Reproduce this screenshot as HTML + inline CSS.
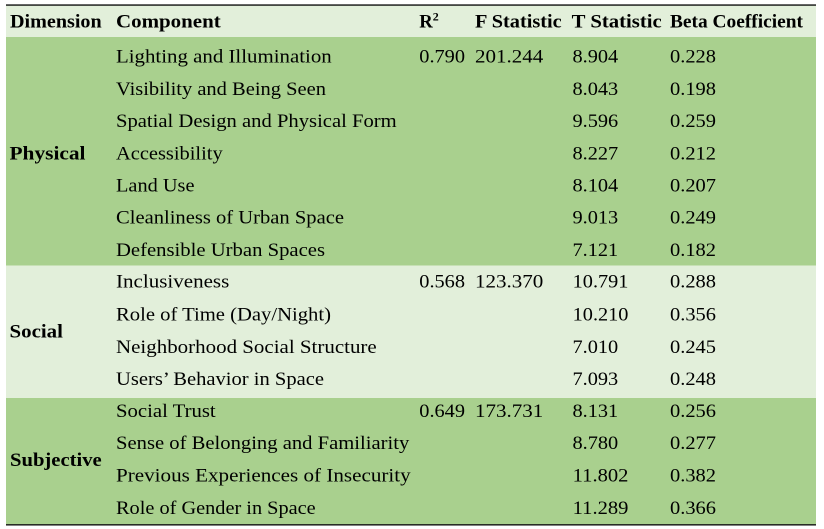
<!DOCTYPE html>
<html>
<head>
<meta charset="utf-8">
<style>
  html,body{margin:0;padding:0;background:#fff;}
  svg{display:block;}
  text{font-family:"Liberation Serif","DejaVu Serif",serif;font-size:18.67px;fill:#000;}
  .b{font-weight:bold;}
</style>
</head>
<body>
<svg width="824" height="529" viewBox="0 0 824 529" xmlns="http://www.w3.org/2000/svg">
  <rect x="0" y="0" width="824" height="529" fill="#ffffff"/>
  <!-- backgrounds -->
  <rect x="6" y="5.5" width="810" height="31.5" fill="#E2EFDA"/>
  <rect x="6" y="37" width="810" height="228.5" fill="#A9D08E"/>
  <rect x="6" y="265.5" width="810" height="132.5" fill="#E2EFDA"/>
  <rect x="6" y="398" width="810" height="126.3" fill="#A9D08E"/>
  <!-- borders -->
  <rect x="6" y="4.4" width="810" height="1.3" fill="#000"/>
  <rect x="6" y="524.2" width="810" height="1.3" fill="#000"/>

  <!-- header -->
  <text class="b" x="10" y="27.7" textLength="91.7" lengthAdjust="spacingAndGlyphs">Dimension</text>
  <text class="b" x="116" y="27.7" textLength="104.7" lengthAdjust="spacingAndGlyphs">Component</text>
  <text class="b" x="419.3" y="27.7">R<tspan dy="-7" font-size="12">2</tspan></text>
  <text class="b" x="475" y="27.7" textLength="86.7" lengthAdjust="spacingAndGlyphs">F Statistic</text>
  <text class="b" x="571.7" y="27.7" textLength="90" lengthAdjust="spacingAndGlyphs">T Statistic</text>
  <text class="b" x="670" y="27.7" textLength="133" lengthAdjust="spacingAndGlyphs">Beta Coefficient</text>

  <!-- dimension labels -->
  <text class="b" x="9.5" y="159.5" textLength="76" lengthAdjust="spacingAndGlyphs">Physical</text>
  <text class="b" x="9.5" y="337.3" textLength="53.4" lengthAdjust="spacingAndGlyphs">Social</text>
  <text class="b" x="10" y="466" textLength="91.7" lengthAdjust="spacingAndGlyphs">Subjective</text>

  <!-- components -->
  <text x="116" y="62.7" textLength="215.7" lengthAdjust="spacingAndGlyphs">Lighting and Illumination</text>
  <text x="116" y="94.9" textLength="210" lengthAdjust="spacingAndGlyphs">Visibility and Being Seen</text>
  <text x="116" y="127.1" textLength="280.7" lengthAdjust="spacingAndGlyphs">Spatial Design and Physical Form</text>
  <text x="116" y="159.3" textLength="106.7" lengthAdjust="spacingAndGlyphs">Accessibility</text>
  <text x="116" y="191.5" textLength="78.5" lengthAdjust="spacingAndGlyphs">Land Use</text>
  <text x="116" y="223.7" textLength="228" lengthAdjust="spacingAndGlyphs">Cleanliness of Urban Space</text>
  <text x="116" y="255.9" textLength="209" lengthAdjust="spacingAndGlyphs">Defensible Urban Spaces</text>
  <text x="116" y="287.6" textLength="113.3" lengthAdjust="spacingAndGlyphs">Inclusiveness</text>
  <text x="116" y="320.3" textLength="215" lengthAdjust="spacingAndGlyphs">Role of Time (Day/Night)</text>
  <text x="116" y="352.8" textLength="260.7" lengthAdjust="spacingAndGlyphs">Neighborhood Social Structure</text>
  <text x="116" y="384.9" textLength="208" lengthAdjust="spacingAndGlyphs">Users’ Behavior in Space</text>
  <text x="116" y="417" textLength="99.7" lengthAdjust="spacingAndGlyphs">Social Trust</text>
  <text x="116" y="449.2" textLength="293.3" lengthAdjust="spacingAndGlyphs">Sense of Belonging and Familiarity</text>
  <text x="116" y="481.6" textLength="294.7" lengthAdjust="spacingAndGlyphs">Previous Experiences of Insecurity</text>
  <text x="116" y="513.8" textLength="199.7" lengthAdjust="spacingAndGlyphs">Role of Gender in Space</text>

  <!-- R2 and F -->
  <text x="419.3" y="62.7" textLength="45.7" lengthAdjust="spacingAndGlyphs">0.790</text>
  <text x="475" y="62.7" textLength="68.3" lengthAdjust="spacingAndGlyphs">201.244</text>
  <text x="419.3" y="287.6" textLength="45.7" lengthAdjust="spacingAndGlyphs">0.568</text>
  <text x="475" y="287.6" textLength="68.3" lengthAdjust="spacingAndGlyphs">123.370</text>
  <text x="419.3" y="417" textLength="45.7" lengthAdjust="spacingAndGlyphs">0.649</text>
  <text x="475" y="417" textLength="68.3" lengthAdjust="spacingAndGlyphs">173.731</text>

  <!-- T statistic -->
  <text x="572.5" y="62.7" textLength="45.7" lengthAdjust="spacingAndGlyphs">8.904</text>
  <text x="572.5" y="94.9" textLength="45.7" lengthAdjust="spacingAndGlyphs">8.043</text>
  <text x="572.5" y="127.1" textLength="45.7" lengthAdjust="spacingAndGlyphs">9.596</text>
  <text x="572.5" y="159.3" textLength="45.7" lengthAdjust="spacingAndGlyphs">8.227</text>
  <text x="572.5" y="191.5" textLength="45.7" lengthAdjust="spacingAndGlyphs">8.104</text>
  <text x="572.5" y="223.7" textLength="45.7" lengthAdjust="spacingAndGlyphs">9.013</text>
  <text x="572.5" y="255.9" textLength="45.7" lengthAdjust="spacingAndGlyphs">7.121</text>
  <text x="572.7" y="287.6" textLength="55.7" lengthAdjust="spacingAndGlyphs">10.791</text>
  <text x="572.7" y="320.3" textLength="55.7" lengthAdjust="spacingAndGlyphs">10.210</text>
  <text x="572.5" y="352.8" textLength="45.7" lengthAdjust="spacingAndGlyphs">7.010</text>
  <text x="572.5" y="384.9" textLength="45.7" lengthAdjust="spacingAndGlyphs">7.093</text>
  <text x="572.5" y="417" textLength="45.7" lengthAdjust="spacingAndGlyphs">8.131</text>
  <text x="572.5" y="449.2" textLength="45.7" lengthAdjust="spacingAndGlyphs">8.780</text>
  <text x="572.7" y="481.6" textLength="55.7" lengthAdjust="spacingAndGlyphs">11.802</text>
  <text x="572.7" y="513.8" textLength="55.7" lengthAdjust="spacingAndGlyphs">11.289</text>

  <!-- Beta -->
  <text x="670" y="62.7" textLength="46" lengthAdjust="spacingAndGlyphs">0.228</text>
  <text x="670" y="94.9" textLength="46" lengthAdjust="spacingAndGlyphs">0.198</text>
  <text x="670" y="127.1" textLength="46" lengthAdjust="spacingAndGlyphs">0.259</text>
  <text x="670" y="159.3" textLength="46" lengthAdjust="spacingAndGlyphs">0.212</text>
  <text x="670" y="191.5" textLength="46" lengthAdjust="spacingAndGlyphs">0.207</text>
  <text x="670" y="223.7" textLength="46" lengthAdjust="spacingAndGlyphs">0.249</text>
  <text x="670" y="255.9" textLength="46" lengthAdjust="spacingAndGlyphs">0.182</text>
  <text x="670" y="287.6" textLength="46" lengthAdjust="spacingAndGlyphs">0.288</text>
  <text x="670" y="320.3" textLength="46" lengthAdjust="spacingAndGlyphs">0.356</text>
  <text x="670" y="352.8" textLength="46" lengthAdjust="spacingAndGlyphs">0.245</text>
  <text x="670" y="384.9" textLength="46" lengthAdjust="spacingAndGlyphs">0.248</text>
  <text x="670" y="417" textLength="46" lengthAdjust="spacingAndGlyphs">0.256</text>
  <text x="670" y="449.2" textLength="46" lengthAdjust="spacingAndGlyphs">0.277</text>
  <text x="670" y="481.6" textLength="46" lengthAdjust="spacingAndGlyphs">0.382</text>
  <text x="670" y="513.8" textLength="46" lengthAdjust="spacingAndGlyphs">0.366</text>
</svg>
</body>
</html>
